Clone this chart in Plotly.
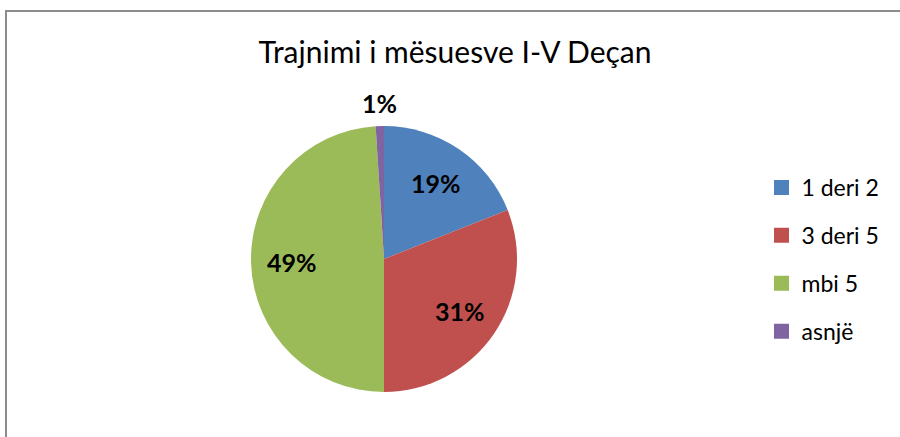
import math
import plotly.graph_objects as go

categories = ["1 deri 2", "3 deri 5", "mbi 5", "asnjë"]
values = [19, 31, 49, 1]
colors = ["#4F81BD", "#C0504D", "#9BBB59", "#8064A2"]
title_text = "Trajnimi i mësuesve I-V Deçan"

W, H = 900, 437
cx, cy, r = 384, 259, 133
FONT = "Lato"

fig = go.Figure()
fig.add_trace(go.Pie(
    labels=categories,
    values=values,
    sort=False,
    direction="clockwise",
    rotation=0,
    marker=dict(colors=colors, line=dict(width=0)),
    textinfo="none",
    showlegend=False,
    hovertemplate="%{label}: %{percent:.0%}<extra></extra>",
    domain=dict(x=[(cx - r) / W, (cx + r) / W], y=[1 - (cy + r) / H, 1 - (cy - r) / H]),
))

# legend entries (square markers), one group each for Excel-like spacing
for cat, col in zip(categories, colors):
    fig.add_trace(go.Scatter(
        x=[None], y=[None], mode="markers", name=cat, legendgroup=cat,
        marker=dict(symbol="square", size=15, color=col, line=dict(width=0)),
        hoverinfo="skip",
    ))

# percentage labels placed along each slice's bisector
total = sum(values)
annotations = []
cum = 0
for v in values:
    frac = v / total
    theta = 2 * math.pi * (cum + frac / 2)
    cum += frac
    k = 0.69 if frac >= 0.05 else 1.17
    px = cx + k * r * math.sin(theta)
    py = cy - k * r * math.cos(theta)
    annotations.append(dict(
        x=px / W, y=1 - py / H, xref="paper", yref="paper",
        text="<b>%d%%</b>" % round(frac * 100), showarrow=False,
        xanchor="center", yanchor="middle",
        font=dict(family=FONT, size=25, color="black"),
    ))

fig.update_layout(
    width=W, height=H,
    margin=dict(l=0, r=0, t=0, b=0),
    paper_bgcolor="white",
    plot_bgcolor="white",
    xaxis=dict(visible=False),
    yaxis=dict(visible=False),
    title=dict(text=title_text, x=455 / W, xanchor="center", y=1 - 52 / H, yanchor="middle",
               font=dict(family=FONT, size=30, color="black")),
    legend=dict(x=761.5 / W, xanchor="left", y=1 - 259.5 / H, yanchor="middle",
                font=dict(family=FONT, size=23, color="black"), tracegroupgap=15,
                bgcolor="rgba(0,0,0,0)"),
    annotations=annotations,
    shapes=[dict(type="rect", xref="paper", yref="paper", x0=6 / W, x1=1.05, y0=-0.05, y1=1 - 11 / H,
                 line=dict(color="#8C8C8C", width=2), fillcolor="rgba(0,0,0,0)", layer="below")],
)

fig.write_html("out.html", config={"displayModeBar": False},
               post_script="document.body.style.margin='0px';")
